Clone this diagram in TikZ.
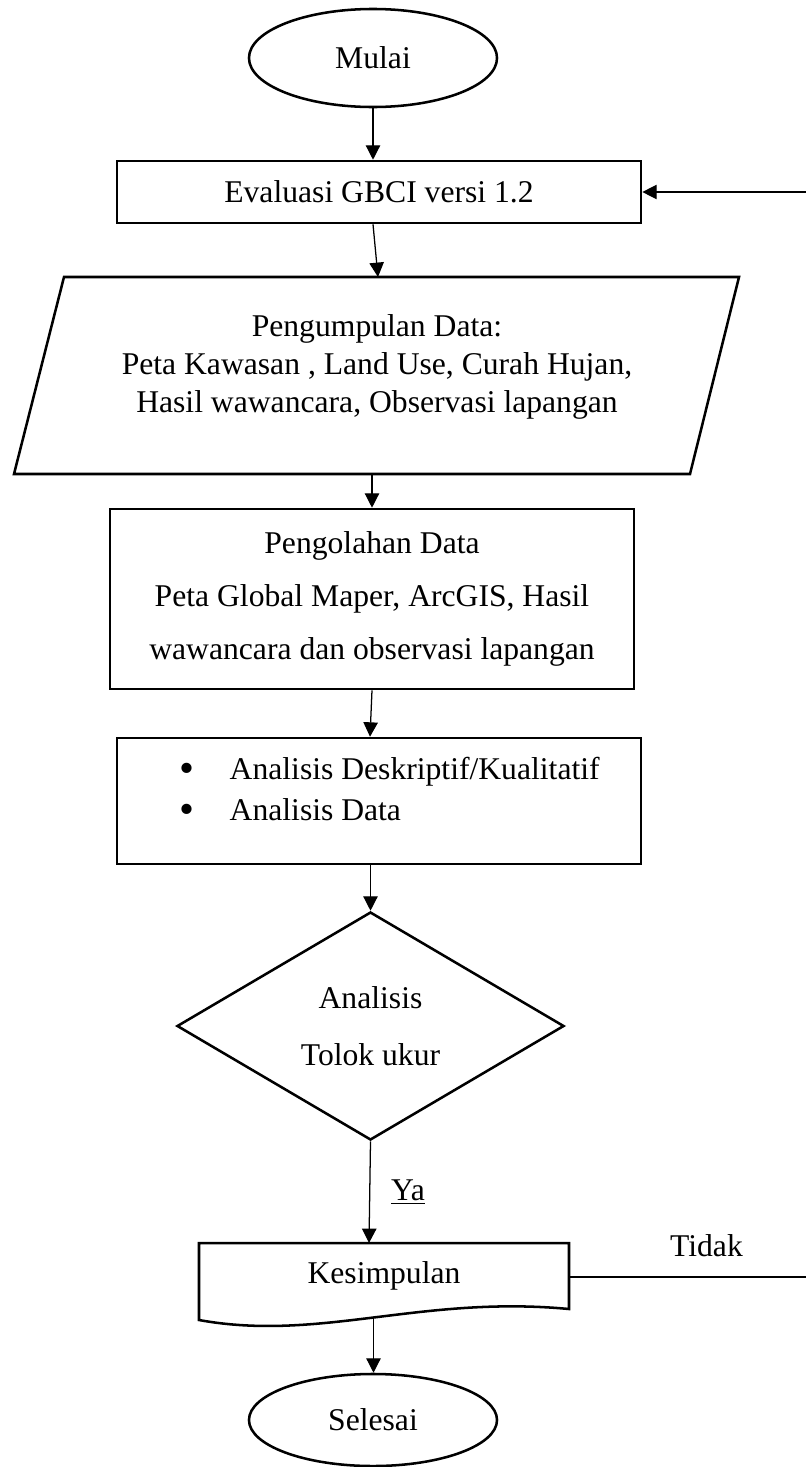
\documentclass[tikz,border=0pt]{standalone}
\usepackage{fontspec}
\setmainfont{Liberation Serif}
\usetikzlibrary{shapes.geometric,arrows.meta,positioning,calc}

\begin{document}
\begin{tikzpicture}[x=0.025cm, y=-0.025cm, font=\fontsize{22.5}{27}\selectfont,
		shapeline/.style={line width=1.8pt},
		box/.style={draw, shapeline, inner sep=0pt, align=center},
		terminal/.style={box, ellipse, minimum width=6.2cm},
		stepbox/.style={box, rectangle, minimum width=13.1cm},
		conn/.style={line width=0.9pt, -{Triangle[length=0.36cm, width=0.36cm]}},
		link/.style={line width=0.9pt}]
	\def\dot{\raisebox{-0.1em}{\scalebox{1.35}{\textbullet}}}
	\useasboundingbox (0,0) rectangle (806,1467);
	% start, GBCI evaluation
	\node[terminal, minimum height=2.45cm] (mulai) at (373,58) {Mulai};
	\node[stepbox, minimum height=1.55cm] (evaluasi) at (379,192) {Evaluasi GBCI versi 1.2};
	\coordinate (balik) at (806,192);
	% data collection (parallelogram)
	\draw[shapeline] (64,277) -- (739,277) -- (690,474) -- (14,474) -- cycle;
	\coordinate (dataN) at (378,277);
	\coordinate (dataS) at (372,474);
	\node[align=center, inner sep=0pt] (data) at (377,367) {Pengumpulan Data:\\
		Peta Kawasan , Land Use, Curah Hujan,\\ Hasil wawancara, Observasi lapangan};
	% processing and analysis
	\node[stepbox, minimum height=4.5cm] (olah) at (372,599) {Pengolahan Data\\[10.7pt]
		Peta Global Maper, ArcGIS, Hasil\\[10.7pt] wawancara dan observasi lapangan};
	\node[stepbox, minimum height=3.15cm] (analisis) at (379,801) {\hspace*{0.54cm}%
		\begin{tabular}{@{}c@{\hspace{0.87cm}}l@{}}
			\dot & Analisis Deskriptif/Kualitatif\\[2.2pt]
			\dot & Analisis Data\\[0.45cm]
		\end{tabular}};
	\node[box, diamond, aspect=1.7, minimum width=9.675cm, minimum height=5.7cm] (tolok) at (370.5,1026)
		{Analisis\\[13.5pt] Tolok ukur};
	% conclusion (document shape) and end
	\draw[shapeline] (199,1243) -- (569,1243) -- (569,1309)
		.. controls (420,1295) and (320,1342) .. (199,1320) coordinate[pos=0.5] (wave) -- cycle;
	\coordinate (simpulN) at (369,1243);
	\coordinate (simpulE) at (569,1277);
	\coordinate (tidakEnd) at (806,1277);
	\node[inner sep=0pt] (simpul) at (384,1276) {Kesimpulan};
	\node[terminal, minimum height=2.3cm] (selesai) at (373,1420) {Selesai};
	% connectors
	\draw[conn] (mulai.south) -- (mulai.south |- evaluasi.north);
	\draw[conn] (balik) -- (evaluasi.east);
	\draw[conn] ($(evaluasi.south)+(-6,0)$) -- (dataN);
	\draw[conn] (dataS) -- (dataS |- olah.north);
	\draw[conn] (olah.south) -- ($(analisis.north)+(-9,0)$);
	\draw[conn] (analisis.south -| tolok.north) -- (tolok.north);
	\draw[conn] (tolok.south) -- node[right=0.52cm, inner sep=0pt] {\underline{Ya}} (simpulN);
	\draw[link] (simpulE) -- node[pos=0.58, above=0.48cm, inner sep=0pt] {Tidak} (tidakEnd);
	\draw[conn] (wave) -- (wave |- selesai.north);
\end{tikzpicture}
\end{document}
